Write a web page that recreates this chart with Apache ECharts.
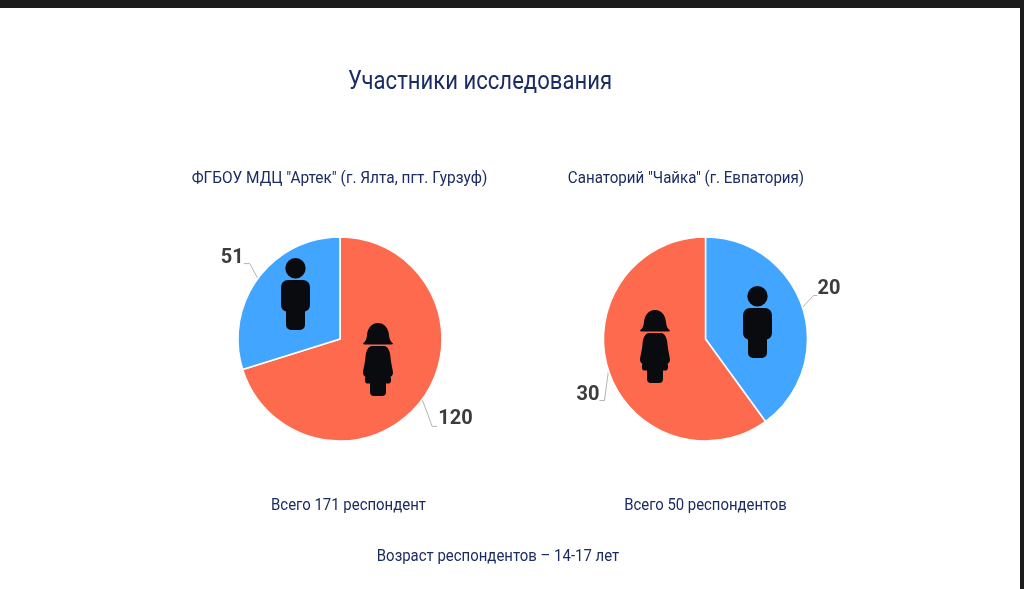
<!DOCTYPE html>
<html><head><meta charset="utf-8">
<style>html,body{margin:0;padding:0;background:#fff}#c{width:1024px;height:589px}</style>
<script src="https://cdn.jsdelivr.net/npm/echarts@6/dist/echarts.min.js"></script>
</head><body><div id="c"></div>
<script>
const mainTitle = 'Участники исследования';
const pieTitles = ['ФГБОУ МДЦ "Артек" (г. Ялта, пгт. Гурзуф)', 'Санаторий "Чайка" (г. Евпатория)'];
const totals = ['Всего 171 респондент', 'Всего 50 респондентов'];
const ageNote = 'Возраст респондентов – 14-17 лет';
const artekNames = ['Девушки', 'Юноши'];
const artekValues = [120, 51];
const chaikaNames = ['Юноши', 'Девушки'];
const chaikaValues = [20, 30];
const RED = '#fe6a4e', BLUE = '#42a5ff', NAVY = '#1b2c63', ICON = '#0a0b0e';
const FONT = 'Roboto,sans-serif';

const manPath = 'M14.5,0a10.2,10.2 0 1 1 -0.01,0Z M7,22H22a7,7 0 0 1 7,7V47a7,7 0 0 1 -5,6.5V67a5,5 0 0 1 -5,5H10a5,5 0 0 1 -5,-5V53.5a7,7 0 0 1 -5,-6.5V29a7,7 0 0 1 7,-7Z';
const womanPath = 'M15,0C22,0 25.5,6 26,12C26.5,16 27,18 30,20.5Q30,21.5 28,21.5H2Q0,21.5 0,20.5C3,18 3.5,16 4,12C4.5,6 8,0 15,0Z M9,23H21C25,23.5 27,28 27.5,34C28,41 30,47 30,50C30,52 28.5,53 27.5,54C28.5,56 28.5,60 26,60.5H23V69a4,4 0 0 1 -4,4H11a4,4 0 0 1 -4,-4V60.5H4C1.5,60 1.5,56 2.5,54C1.5,53 0,52 0,50C0,47 2,41 2.5,34C3,28 5,23.5 9,23Z';
echarts.graphic.registerShape('manIcon', echarts.graphic.extendPath(manPath, {}));
echarts.graphic.registerShape('womanIcon', echarts.graphic.extendPath(womanPath, {}));

function text(t, cx, cy, size, sx) {
  return { type: 'text', x: cx, y: cy, scaleX: sx, silent: true,
    style: { text: t, x: 0, y: 0, align: 'center', verticalAlign: 'middle', fill: NAVY,
      font: size + 'px ' + FONT } };
}
function icon(type, x, y) { return { type, x, y, z: 10, silent: true, style: { fill: ICON } }; }

const lineOffsets = {
  120: [[10, 27], [15, 27]], 51: [[-8, -15], [-14, -15]],
  20: [[11, -12], [15, -12]], 30: [[-4, 30], [-9, 30]]
};
const labelOffsets = { 120: [16, 20], 51: [-14, -21], 20: [15, -18], 30: [-9, 24] };
function pie(names, values, cx) {
  return {
    type: 'pie', center: [cx, 339], radius: [0, 102], startAngle: 90, clockwise: true,
    animation: false, silent: true,
    data: names.map((n, i) => ({ name: n, value: values[i],
      itemStyle: { color: n === 'Девушки' ? RED : BLUE } })),
    itemStyle: { borderColor: '#fff', borderWidth: 1.5 },
    label: { show: true, formatter: '{c}', color: '#3c3c3f', fontFamily: FONT,
      fontSize: 20, fontWeight: 'bold' },
    labelLine: { show: true, length: 20, length2: 6, smooth: false,
      lineStyle: { color: '#b5b5b5', width: 1 } },
    labelLayout(p) {
      const s = p.labelLinePoints[0], v = +p.text;
      const o = lineOffsets[v], l = labelOffsets[v];
      const right = o[1][0] > 0;
      return {
        x: s[0] + l[0], y: s[1] + l[1],
        align: right ? 'left' : 'right', verticalAlign: 'middle',
        labelLinePoints: [s, [s[0] + o[0][0], s[1] + o[0][1]], [s[0] + o[1][0], s[1] + o[1][1]]]
      };
    }
  };
}
const chart = echarts.init(document.getElementById('c'), null, { renderer: 'canvas' });
chart.setOption({
  backgroundColor: '#fff', animation: false,
  graphic: [
    { type: 'rect', shape: { x: 0, y: 0, width: 1024, height: 8 }, style: { fill: '#1c1c1c' }, silent: true },
    { type: 'rect', shape: { x: 1020, y: 0, width: 4, height: 589 }, style: { fill: '#1c1c1c' }, silent: true },
    text(mainTitle, 480, 82, 26, 0.85),
    text(pieTitles[0], 339.5, 178.5, 16, 0.964),
    text(pieTitles[1], 686, 178.5, 16, 0.944),
    text(totals[0], 348.5, 505.5, 16, 0.934),
    text(totals[1], 705.5, 505.5, 16, 0.93),
    text(ageNote, 498, 556.5, 16, 0.934),
    icon('manIcon', 281, 258),
    icon('manIcon', 743, 286),
    icon('womanIcon', 363, 323),
    icon('womanIcon', 640, 310)
  ],
  series: [pie(artekNames, artekValues, 340), pie(chaikaNames, chaikaValues, 705.5)]
});
</script></body></html>
